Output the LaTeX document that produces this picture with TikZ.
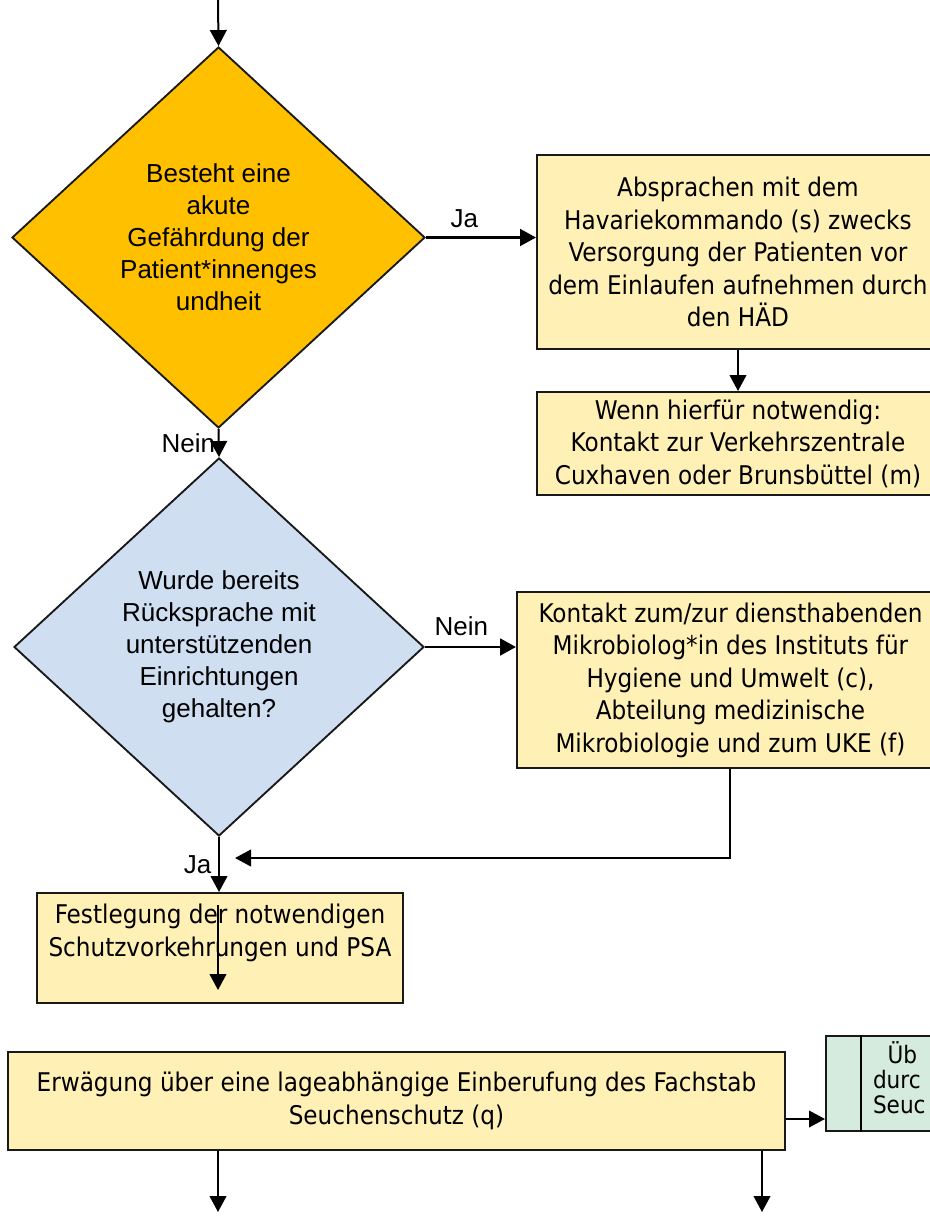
\documentclass[tikz,border=0pt]{standalone}
\usepackage{fontspec}
\setmainfont{Liberation Sans}
\newfontfamily\tahoma{DejaVu Sans Condensed}
\usepackage{xcolor}
\usetikzlibrary{shapes.geometric,arrows.meta}
\definecolor{orangeD}{HTML}{FFC000}
\definecolor{blueD}{HTML}{CFDFF1}
\definecolor{yellowB}{HTML}{FFF0B5}
\definecolor{greenB}{HTML}{D5EBDD}
\tikzset{
  box/.style={draw=black!90,line width=1.5pt,fill=yellowB,rectangle,inner sep=0pt,
    font=\tahoma\fontsize{19.3}{24.4}\selectfont,align=center},
  boxtxt/.style={font=\tahoma\fontsize{19.3}{24.4}\selectfont,align=center,inner sep=0pt},
  entsch/.style={diamond,draw=black!90,line width=1.4pt,inner sep=0pt,
    font=\fontsize{19.5}{24}\selectfont,align=center},
  lab/.style={font=\fontsize{19.5}{21}\selectfont,inner sep=2pt}
}
\begin{document}
\begin{tikzpicture}
[x=0.75pt,y=-0.75pt,>={Triangle[length=12pt,width=12.5pt]},line width=1.5pt]
\useasboundingbox (0,0) rectangle (930,1216);
\clip (0,0) rectangle (930,1216);
% Nodes of the diagram

\coordinate (in) at (218,0);

\node(gefahr)[entsch,fill=orangeD,minimum width=309.75pt,minimum height=285.75pt] at (218.5,237.5) {Besteht eine\\ akute\\ Gefährdung der\\ Patient*innenges\\ undheit};

\node(absp)[box,minimum width=301.5pt,minimum height=145.5pt] at (738,252) {Absprachen mit dem\\ Havariekommando (s) zwecks\\ Versorgung der Patienten vor\\ dem Einlaufen aufnehmen durch\\ den HÄD};

\node(wenn)[box,minimum width=301.5pt,minimum height=77.25pt] at (738,443.5) {Wenn hierfür notwendig:\\ Kontakt zur Verkehrszentrale\\ Cuxhaven oder Brunsbüttel (m)};

\node(rueck)[entsch,fill=blueD,minimum width=307.5pt,minimum height=283.5pt] at (219,647) {Wurde bereits\\ Rücksprache mit\\ unterstützenden\\ Einrichtungen\\ gehalten?};

\node(kont)[box,minimum width=320.25pt,minimum height=132pt] at (730.5,680) {Kontakt zum/zur diensthabenden\\ Mikrobiolog*in des Instituts für\\ Hygiene und Umwelt (c),\\ Abteilung medizinische\\ Mikrobiologie und zum UKE (f)};

\coordinate (merge) at (235,858);

\node(fest)[box,minimum width=274.5pt,minimum height=82.5pt] at (220,948) {};
\node(festtxt)[boxtxt] at (220,933) {Festlegung der notwendigen\\ Schutzvorkehrungen und PSA};
\coordinate (festA) at (218,905);
\coordinate (festB) at (218,990);

\node(erw)[box,minimum width=582.75pt,minimum height=73.5pt] at (396.5,1101) {Erwägung über eine lageabhängige Einberufung des Fachstab\\ Seuchenschutz (q)};

\node(gruen)[draw=black!90,line width=1.5pt,fill=greenB,rectangle,inner sep=0pt,
    minimum width=130.5pt,minimum height=71.25pt] at (913,1083.5) {};
\draw ([xshift=27pt]gruen.north west) -- ([xshift=27pt]gruen.south west);
\node(gruentxt)[anchor=west,align=left,inner sep=0pt,font=\tahoma\fontsize{18}{18.75}\selectfont] at (872,1078) {\hspace{11pt}Üb\\ durc\\ Seuc};

\coordinate (out1) at (218,1212);
\coordinate (out2) at (762,1212);

% Connectors
\draw[->] (in) -- (gefahr.north);
\draw[->,line width=2.2pt] (gefahr.east) to node[above=4pt,lab,pos=0.35]{Ja} (gefahr.east -| absp.west);
\draw[->] (absp) -- (wenn);
\draw[->] (gefahr.south) to node[left,lab]{Nein} (rueck.north);
\draw[->,line width=2.2pt] (rueck.east) to node[above=5pt,lab,pos=0.4]{Nein} (rueck.east -| kont.west);
\draw[->] (kont.south -| 730,0) |- (merge);
\draw[->] (rueck.south) to node[left=3pt,lab]{Ja} (fest.north -| rueck.south);
\draw[->] (festA) -- (festB);
\draw[->,line width=1.2pt] ([yshift=-13.5pt]erw.east) -- ([yshift=-13.5pt]erw.east -| gruen.west);
\draw[->] (out1 |- erw.south) -- (out1);
\draw[->] (out2 |- erw.south) -- (out2);
\end{tikzpicture}
\end{document}
